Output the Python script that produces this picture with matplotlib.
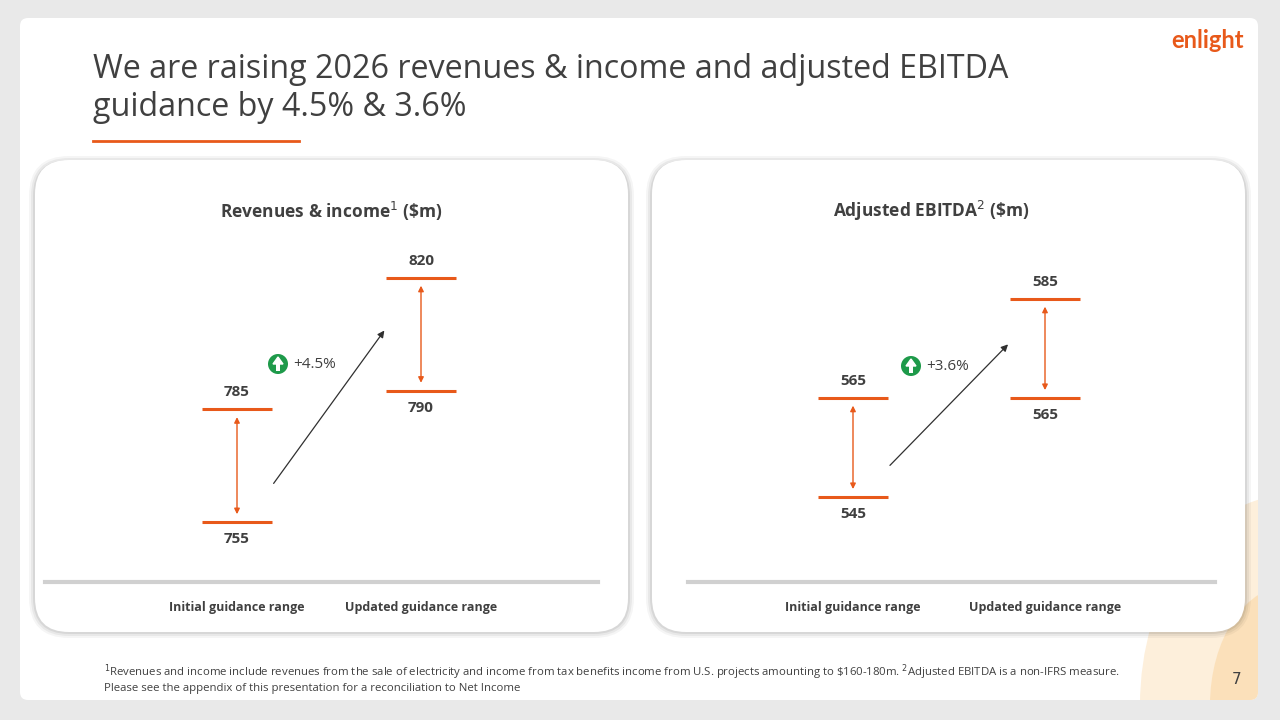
import matplotlib
matplotlib.use("Agg")
import matplotlib.pyplot as plt
from matplotlib.patches import FancyBboxPatch, Ellipse, Circle, Rectangle

W, H = 1280, 720
ORANGE = "#e8591a"
GREEN = "#1e9a4a"

categories = ["Initial guidance range", "Updated guidance range"]
rev_low = [755, 790]
rev_high = [785, 820]
rev_growth = "+4.5%"
ebitda_low = [545, 565]
ebitda_high = [565, 585]
ebitda_growth = "+3.6%"

fig = plt.figure(figsize=(12.8, 7.2), dpi=100)
fig.patch.set_facecolor("#e9e9e9")
bg = fig.add_axes([0, 0, 1, 1])
bg.set_xlim(0, W)
bg.set_ylim(H, 0)
bg.axis("off")


def rbox(x0, y0, x1, y1, r, fc, z=1, alpha=1.0):
    p = FancyBboxPatch((x0 + r, y0 + r), x1 - x0 - 2 * r, y1 - y0 - 2 * r,
                       boxstyle=f"round,pad={r}", fc=fc, ec="none", zorder=z, alpha=alpha)
    bg.add_patch(p)
    return p


card = rbox(20, 18, 1258, 700, 8, "white", z=0)
for (w, h, c, a) in [(300, 420, "#fdebd2", 0.8), (160, 240, "#fbd7a4", 0.6)]:
    e = Ellipse((1290, 705), w, h, fc=c, ec="none", alpha=a, zorder=0.5)
    bg.add_patch(e)
    e.set_clip_path(card)

# title
bg.text(93, 70, "We are raising 2026 revenues & income and adjusted EBITDA",
        fontsize=23.2, color="#404040", va="center", ha="left", family="Open Sans")
bg.text(93, 108, "guidance by 4.5% & 3.6%",
        fontsize=23.2, color="#404040", va="center", ha="left", family="Open Sans")
bg.plot([93, 299], [141, 141], color=ORANGE, lw=2)
bg.text(1208, 40, "enlight", fontsize=17, fontweight="bold", color=ORANGE,
        ha="center", va="center", family="Lato")

# panels with soft shadow
for x0, x1 in [(35, 628), (652, 1245)]:
    for k, a in [(6, 0.04), (4, 0.05), (2, 0.07)]:
        rbox(x0 - k, 160 - k + 2, x1 + k, 632 + k, 34 + k, "black", z=1, alpha=a)
    rbox(x0, 160, x1, 632, 34, "white", z=2)

bg.plot([45, 598], [582, 582], color="#d0d0d0", lw=3, zorder=3)
bg.plot([688, 1215], [582, 582], color="#d0d0d0", lw=3, zorder=3)

bg.text(331, 211, "Revenues & income$^1$ (\\$m)", fontsize=12.5, fontweight="bold",
        color="#404040", ha="center", va="center", zorder=4, family="Open Sans")
bg.text(931, 211, "Adjusted EBITDA$^2$ (\\$m)", fontsize=12.5, fontweight="bold",
        color="#404040", ha="center", va="center", zorder=4, family="Open Sans")


def panel(px0, px1, c0, c1, ylo, yhi, low, high, growth, icon_px, text_px):
    ax = fig.add_axes([px0 / W, 1 - 580 / H, (px1 - px0) / W, 340 / H])
    ax.axis("off")
    unit = c1 - c0
    ax.set_xlim(-(c0 - px0) / unit, 1 + (px1 - c1) / unit)
    ax.set_ylim(ylo, yhi)
    hw = 35 / unit
    ppu = 340 / (yhi - ylo)
    off = 17 / ppu
    for i in range(len(categories)):
        for v in (low[i], high[i]):
            ax.plot([i - hw, i + hw], [v, v], color=ORANGE, lw=2.2, solid_capstyle="butt")
        ax.annotate("", xy=(i, high[i] - 5 / ppu), xytext=(i, low[i] + 5 / ppu),
                    arrowprops=dict(arrowstyle="<|-|>", color=ORANGE, lw=1, mutation_scale=8))
        ax.text(i, high[i] + off, f"{high[i]}", fontsize=11, fontweight="bold",
                color="#404040", ha="center", va="center", family="Open Sans")
        ax.text(i, low[i] - off, f"{low[i]}", fontsize=11, fontweight="bold",
                color="#404040", ha="center", va="center", family="Open Sans")
        ax.text(i, ylo - 27 / ppu, categories[i], fontsize=9, fontweight="bold",
                color="#404040", ha="center", va="center", clip_on=False, family="Open Sans")
    m0 = (low[0] + high[0]) / 2
    m1 = (low[1] + high[1]) / 2
    ax.annotate("", xy=(1 - hw, m1 + 6 / ppu), xytext=(hw, m0 - 20 / ppu),
                arrowprops=dict(arrowstyle="-|>", color="#303030", lw=0.9, mutation_scale=10))
    cx, cy = icon_px
    bg.add_patch(Circle(icon_px, 10, fc=GREEN, ec="none", zorder=5))
    bg.add_patch(Rectangle((cx - 1.6, cy - 1), 3.2, 8, fc="white", ec="none", zorder=6))
    bg.fill([cx - 5, cx + 5, cx], [cy, cy, cy - 7], color="white", zorder=6)
    bg.text(text_px[0], text_px[1], growth, fontsize=11, color="#404040", ha="left",
            va="center", zorder=6, family="Open Sans")


panel(45, 598, 237, 421, 739.55, 830.1, rev_low, rev_high, rev_growth, (278, 364), (293, 364))
panel(688, 1215, 853, 1045, 528.2, 596.9, ebitda_low, ebitda_high, ebitda_growth, (911, 366), (926, 366))

bg.text(104, 672, "$^1$Revenues and income include revenues from the sale of electricity and income from tax benefits income from U.S. projects amounting to \\$160-180m. $^2$Adjusted EBITDA is a non-IFRS measure.",
        fontsize=8.2, color="#404040", ha="left", va="center", zorder=6, family="Open Sans")
bg.text(104, 689, "Please see the appendix of this presentation for a reconciliation to Net Income",
        fontsize=8.2, color="#404040", ha="left", va="center", zorder=6, family="Open Sans")
bg.text(1237, 679, "7", fontsize=11, color="#404040", ha="center", va="center", zorder=6)

fig.savefig("out.png", dpi=100)
